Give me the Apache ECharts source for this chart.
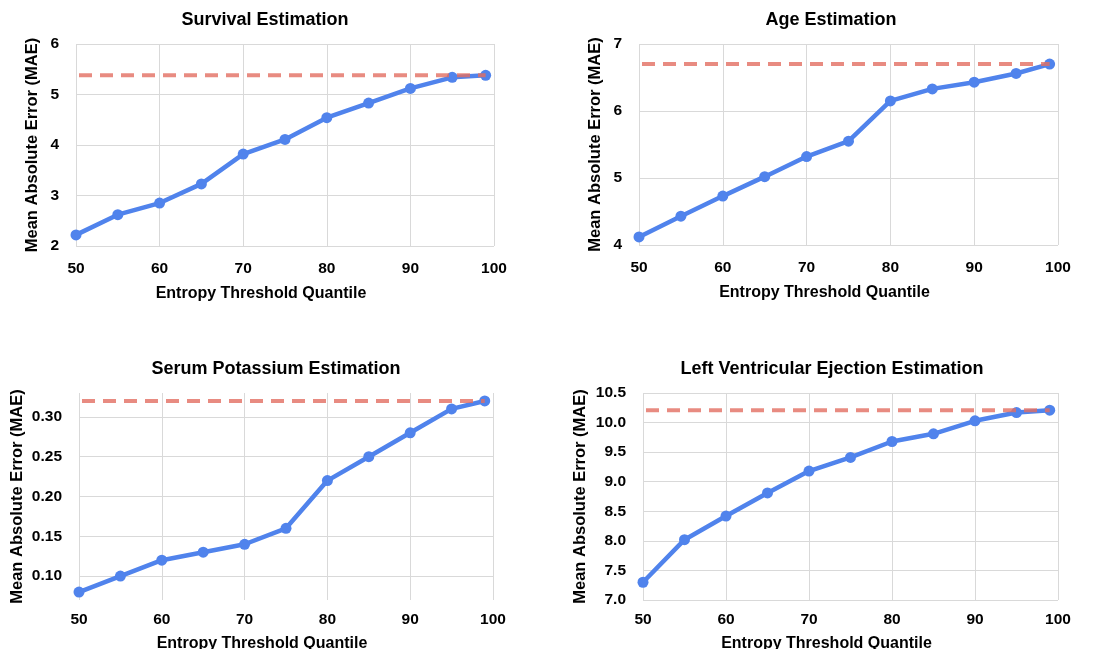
<!DOCTYPE html>
<html>
<head>
<meta charset="utf-8">
<script src="https://cdn.jsdelivr.net/npm/echarts@6/dist/echarts.min.js"></script>
<style>html,body{margin:0;padding:0;background:#fff;}#c{width:1099px;height:649px;}</style>
</head>
<body>
<div id="c"></div>
<script>
const quantiles = [50, 55, 60, 65, 70, 75, 80, 85, 90, 95, 99];
const survival = [2.22, 2.62, 2.85, 3.23, 3.82, 4.11, 4.54, 4.83, 5.12, 5.34, 5.38];
const age = [4.12, 4.43, 4.73, 5.02, 5.32, 5.55, 6.15, 6.33, 6.43, 6.56, 6.70];
const potassium = [0.08, 0.10, 0.12, 0.13, 0.14, 0.16, 0.22, 0.25, 0.28, 0.31, 0.32];
const lvef = [7.30, 8.02, 8.42, 8.81, 9.18, 9.41, 9.68, 9.81, 10.03, 10.17, 10.21];
const baselines = [5.38, 6.70, 0.32, 10.21];
const titles = ['Survival Estimation', 'Age Estimation', 'Serum Potassium Estimation', 'Left Ventricular Ejection Estimation'];
const potassiumTicks = [0.10, 0.15, 0.20, 0.25, 0.30];
const xName = 'Entropy Threshold Quantile';
const yName = 'Mean Absolute Error (MAE)';

const FONT = '"Liberation Sans", Arial, sans-serif';
const BLUE = '#5083ec';
const RED = 'rgba(226,110,98,0.8)';
const GRID = '#d9d9d9';

const grids = [
  {left: 76, top: 44, width: 418, height: 202, outerBoundsMode: 'none', containLabel: false},
  {left: 639, top: 44, width: 419, height: 201, outerBoundsMode: 'none', containLabel: false},
  {left: 79, top: 393, width: 414, height: 207, outerBoundsMode: 'none', containLabel: false},
  {left: 643, top: 393, width: 415, height: 207, outerBoundsMode: 'none', containLabel: false}
];
const titlePos = [[260, 6], [826, 6], [271, 355], [827, 355]];
const allY = [survival, age, potassium, lvef];
const yCfg = [
  {min: 2, max: 6, interval: 1, dec: 0, gap: 35},
  {min: 4, max: 7, interval: 1, dec: 0, gap: 35},
  {min: 0.07, max: 0.33, custom: potassiumTicks, dec: 2, gap: 53},
  {min: 7, max: 10.5, interval: 0.5, dec: 1, gap: 54}
];
const xCfg = [{margin: 15, gap: 40}, {margin: 15, gap: 40}, {margin: 12, gap: 36}, {margin: 12, gap: 36}];

const option = {
  animation: false,
  backgroundColor: '#fff',
  title: titles.map((t, i) => ({
    text: t, left: titlePos[i][0], top: titlePos[i][1], textAlign: 'center',
    textStyle: {fontFamily: FONT, fontSize: 18, fontWeight: 'bold', color: '#000'}
  })),
  grid: grids,
  xAxis: grids.map((g, i) => ({
    type: 'value', gridIndex: i, min: 50, max: 100, interval: 10,
    name: xName, nameLocation: 'middle', nameGap: xCfg[i].gap,
    nameTextStyle: {fontFamily: FONT, fontSize: 16, fontWeight: 'bold', color: '#000', padding: [0, 48, 0, 0]},
    axisLine: {show: false}, axisTick: {show: false},
    axisLabel: {fontFamily: FONT, fontSize: 15.5, fontWeight: 'bold', color: '#000', margin: xCfg[i].margin},
    splitLine: {show: true, lineStyle: {color: GRID, width: 1}}
  })),
  yAxis: yCfg.map((c, i) => {
    const ax = {
      type: 'value', gridIndex: i, min: c.min, max: c.max,
      name: yName, nameLocation: 'middle', nameGap: c.gap, nameRotate: 90,
      nameTextStyle: {fontFamily: FONT, fontSize: 16.5, fontWeight: 'bold', color: '#000'},
      axisLine: {show: false},
      axisTick: {show: false},
      axisLabel: {fontFamily: FONT, fontSize: 15.5, fontWeight: 'bold', color: '#000', margin: 17,
        formatter: v => Number(v).toFixed(c.dec)},
      splitLine: {show: true, lineStyle: {color: GRID, width: 1}}
    };
    if (c.custom) {
      ax.axisLabel.customValues = c.custom;
      ax.axisTick.customValues = c.custom;
    } else {
      ax.interval = c.interval;
    }
    return ax;
  }),
  series: []
};

allY.forEach((ys, i) => {
  option.series.push({
    type: 'line', xAxisIndex: i, yAxisIndex: i,
    data: quantiles.map((q, k) => [q, ys[k]]),
    lineStyle: {color: BLUE, width: 4.5},
    itemStyle: {color: BLUE},
    symbol: 'circle', symbolSize: 11, z: 2
  });
  option.series.push({
    type: 'line', xAxisIndex: i, yAxisIndex: i,
    data: [[quantiles[0], baselines[i]], [quantiles[quantiles.length - 1], baselines[i]]],
    lineStyle: {color: RED, width: 4, type: [13, 8], dashOffset: -3},
    symbol: 'none', z: 3
  });
});

const chart = echarts.init(document.getElementById('c'), null, {renderer: 'canvas'});
chart.setOption(option);
</script>
</body>
</html>
